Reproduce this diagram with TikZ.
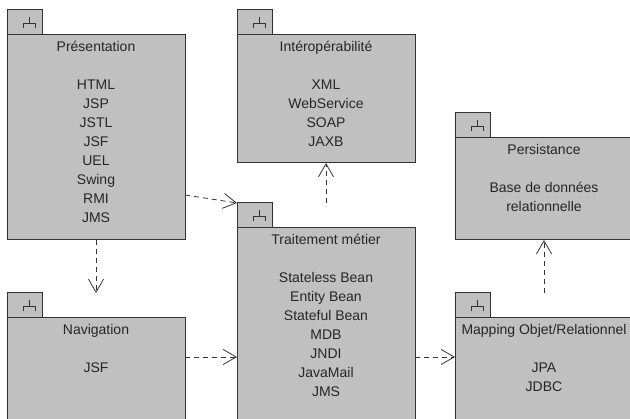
\documentclass[tikz,border=0pt]{standalone}
\usepackage{fontspec}
\setmainfont{Liberation Sans}
\usetikzlibrary{arrows.meta}

\definecolor{fondpaquet}{RGB}{192,192,192}
\definecolor{traitpaquet}{RGB}{51,51,51}

\tikzset{
	paquet/.style={draw=traitpaquet, fill=fondpaquet, line width=1pt, minimum width=178pt, anchor=north west, inner sep=0pt, outer sep=0pt},
	onglet/.style={draw=traitpaquet, fill=fondpaquet, line width=1pt, minimum width=35pt, minimum height=25pt, anchor=south west, inner sep=0pt, outer sep=0pt},
	texte/.style={anchor=north, align=center, inner sep=0pt, text=black!85, font=\fontsize{14}{19}\selectfont},
	dep/.style={draw=traitpaquet, line width=0.8pt, dash pattern=on 5pt off 4pt, -{Straight Barb[length=13pt,width=15pt]}},
	icone/.pic={\draw[traitpaquet, line width=1pt] (-6,6) -- (-6,1.5) -- (6,1.5) -- (6,6) (0,1.5) -- (0,-5);}
}

\begin{document}
\begin{tikzpicture}[x=1pt, y=-1pt]
	\clip (0,0) rectangle (630,419);
	\fill[white] (0,0) rectangle (630,419);

	% Paquetages
	\node[paquet, minimum height=205pt] (pres) at (7,35) {};		% Présentation
	\node[paquet, minimum height=128pt] (inter) at (237,35) {};		% Intéropérabilité
	\node[paquet, minimum height=205pt] (trait) at (237,228) {};	% Traitement métier
	\node[paquet, minimum height=110pt] (nav) at (7,318) {};		% Navigation
	\node[paquet, minimum height=102pt] (pers) at (455,138) {};		% Persistance
	\node[paquet, minimum height=110pt] (map) at (455,318) {};		% Mapping

	% Onglets
	\foreach \p in {pres,inter,trait,nav,pers,map}{
		\node[onglet] (\p-onglet) at (\p.north west) {};
		\pic at ([xshift=4.5pt]\p-onglet.center) {icone};
	}

	% Textes
	\node[texte] (pres-texte) at ([yshift=-6pt]pres.north) {Présentation\\[19pt]HTML\\JSP\\JSTL\\JSF\\UEL\\Swing\\RMI\\JMS};
	\node[texte] (inter-texte) at ([yshift=-6pt]inter.north) {Intéropérabilité\\[19pt]XML\\WebService\\SOAP\\JAXB};
	\node[texte] (trait-texte) at ([yshift=-6pt]trait.north) {Traitement métier\\[19pt]Stateless Bean\\Entity Bean\\Stateful Bean\\MDB\\JNDI\\JavaMail\\JMS};
	\node[texte] (nav-texte) at ([yshift=-6pt]nav.north) {Navigation\\[19pt]JSF};
	\node[texte] (pers-texte) at ([yshift=-6pt]pers.north) {Persistance\\[19pt]Base de données\\relationnelle};
	\node[texte] (map-texte) at ([yshift=-6pt]map.north) {Mapping Objet/Relationnel\\[19pt]JPA\\JDBC};

	% Dépendances
	\draw[dep] ([yshift=45pt]pres.south east) -- (trait-onglet.north west);
	\draw[dep] (pres.south) -- ([yshift=25pt]nav.north);
	\draw[dep] ([yshift=-39pt]nav.north east) -- ([yshift=-129pt]trait.north west);
	\draw[dep] ([yshift=25pt]trait.north) -- (inter.south);
	\draw[dep] ([yshift=-129pt]trait.north east) -- ([yshift=-39pt]map.north west);
	\draw[dep] ([yshift=25pt]map.north) -- (pers.south);
\end{tikzpicture}
\end{document}
